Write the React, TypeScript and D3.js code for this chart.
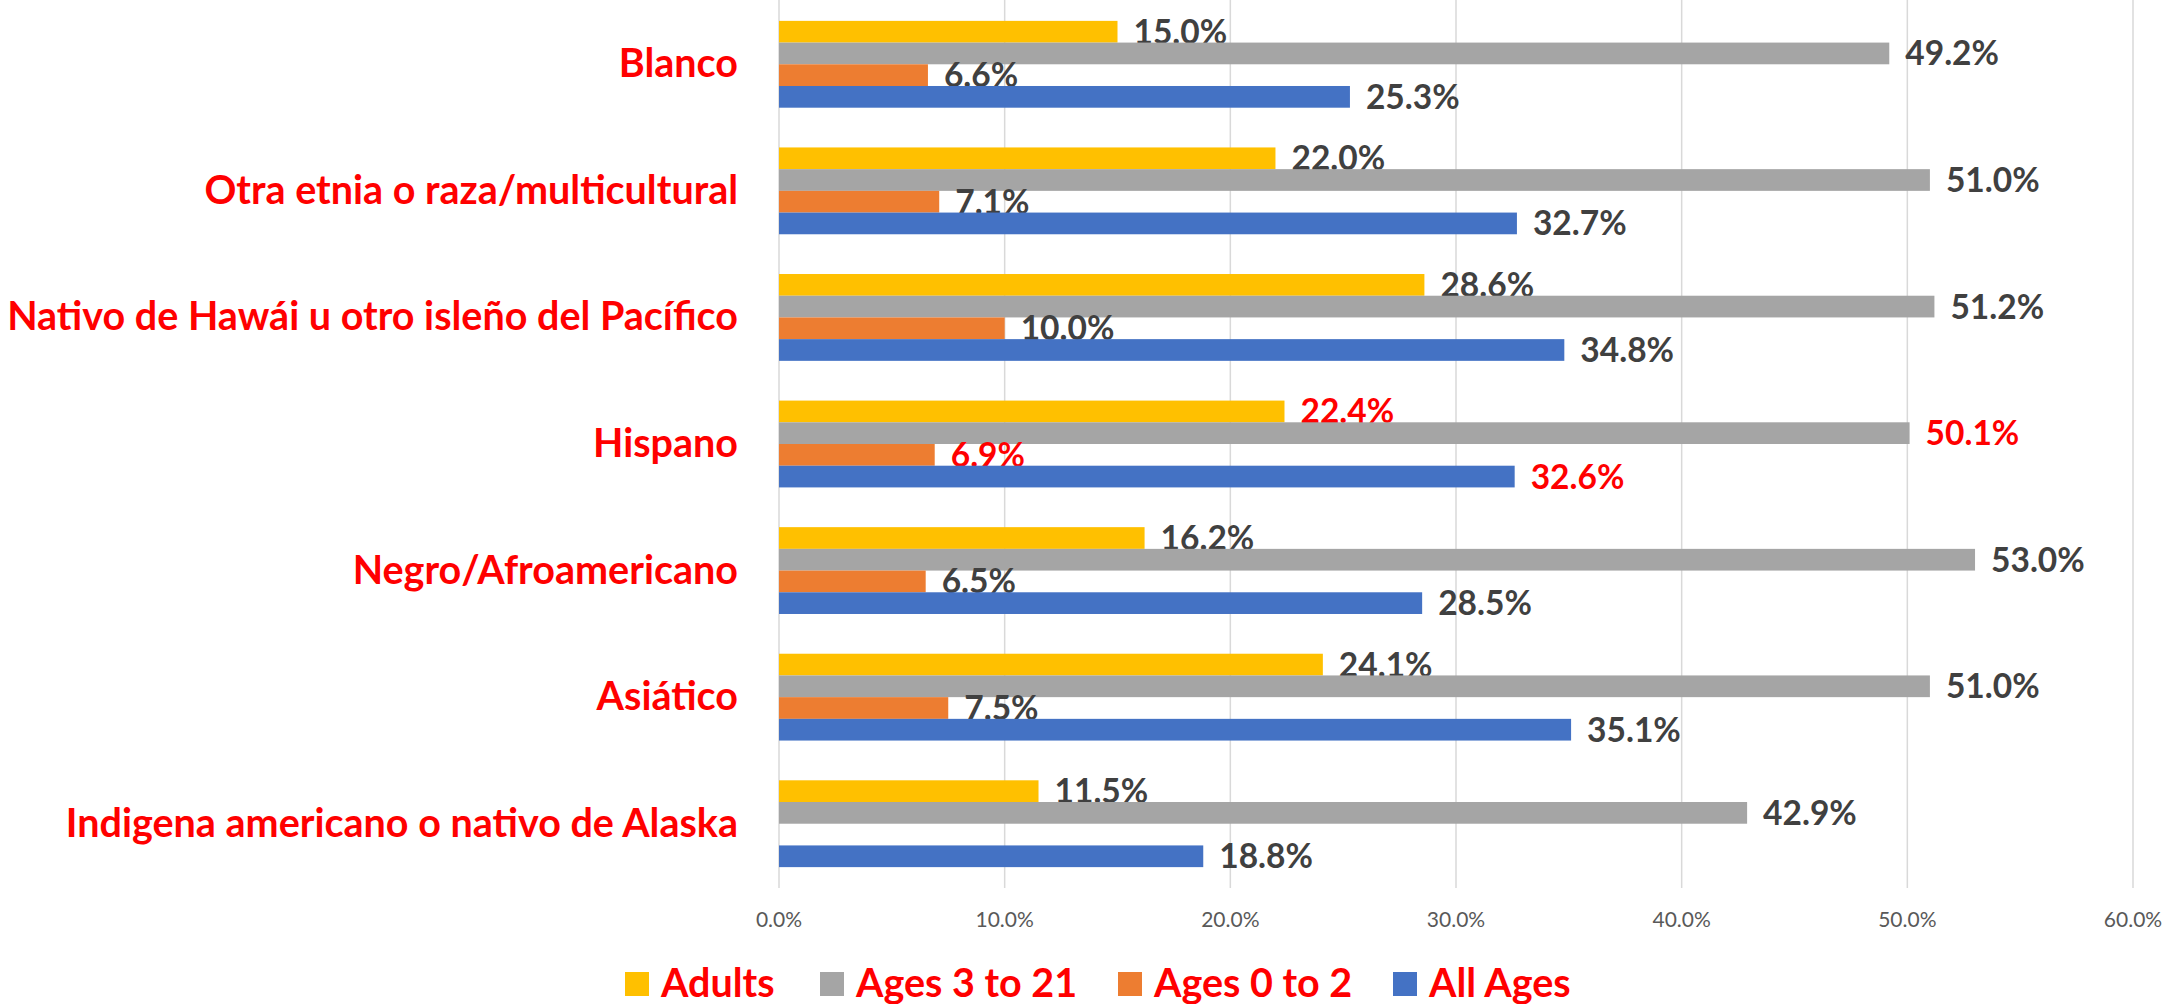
import React, { useEffect, useRef } from "react";
import * as d3 from "d3";

const categories = [
  "Blanco",
  "Otra etnia o raza/multicultural",
  "Nativo de Hawái u otro isleño del Pacífico",
  "Hispano",
  "Negro/Afroamericano",
  "Asiático",
  "Indigena americano o nativo de Alaska",
];
const seriesNames = ["Adults", "Ages 3 to 21", "Ages 0 to 2", "All Ages"];
const seriesColors = ["#FFC000", "#A5A5A5", "#ED7D31", "#4472C4"];
const adults = [15.0, 22.0, 28.6, 22.4, 16.2, 24.1, 11.5];
const ages3to21 = [49.2, 51.0, 51.2, 50.1, 53.0, 51.0, 42.9];
const ages0to2 = [6.6, 7.1, 10.0, 6.9, 6.5, 7.5, null];
const allAges = [25.3, 32.7, 34.8, 32.6, 28.5, 35.1, 18.8];
const xTicks = [0, 10, 20, 30, 40, 50, 60];
const highlighted = ["Hispano"];

const W = 2165;
const H = 1004;
const FONT = "Lato, 'Noto Sans', sans-serif";

export default function App() {
  const ref = useRef<SVGSVGElement>(null);
  useEffect(() => {
    const svg = d3.select(ref.current);
    svg.selectAll("*").remove();
    const series = [adults, ages3to21, ages0to2, allAges];
    const x = d3.scaleLinear().domain([0, 60]).range([779, 2133]);
    const y = d3.scaleBand().domain(categories).range([1, 887]).paddingInner(0.314).paddingOuter(0.157);
    const y1 = d3.scaleBand().domain(seriesNames).range([0, y.bandwidth()]);

    svg.append("g").selectAll("line").data(xTicks).join("line")
      .attr("x1", d => x(d)).attr("x2", d => x(d))
      .attr("y1", 0).attr("y2", 888)
      .attr("stroke", "#D9D9D9").attr("stroke-width", 1.5);

    svg.append("g").selectAll("text").data(xTicks).join("text")
      .attr("x", d => x(d)).attr("y", 927)
      .attr("text-anchor", "middle")
      .attr("font-family", FONT).attr("font-size", 21).attr("fill", "#595959")
      .text(d => d3.format(".1f")(d) + "%");

    svg.append("g").selectAll("text").data(categories).join("text")
      .attr("x", 738).attr("y", d => (y(d) as number) + y.bandwidth() / 2 + 13)
      .attr("text-anchor", "end")
      .attr("font-family", FONT).attr("font-weight", "bold").attr("font-size", 39.5)
      .attr("fill", "#FF0000").text(d => d);

    series.forEach((vals, si) => {
      const g = svg.append("g");
      const data = categories.map((c, i) => ({ c, v: vals[i] })).filter(d => d.v != null) as { c: string; v: number }[];
      g.selectAll("rect").data(data).join("rect")
        .attr("x", x(0)).attr("y", d => (y(d.c) as number) + (y1(seriesNames[si]) as number))
        .attr("width", d => x(d.v) - x(0)).attr("height", y1.bandwidth())
        .attr("fill", seriesColors[si]);
      g.selectAll("text").data(data).join("text")
        .attr("x", d => x(d.v) + 16)
        .attr("y", d => (y(d.c) as number) + (y1(seriesNames[si]) as number) + y1.bandwidth() / 2 + 12)
        .attr("font-family", FONT).attr("font-weight", "bold").attr("font-size", 33.5)
        .attr("fill", d => highlighted.includes(d.c) ? "#FF0000" : "#404040")
        .text(d => d3.format(".1f")(d.v) + "%");
    });

    const legendX = [625, 820, 1118, 1393];
    const lg = svg.append("g");
    seriesNames.forEach((s, i) => {
      lg.append("rect").attr("x", legendX[i]).attr("y", 972).attr("width", 24).attr("height", 24).attr("fill", seriesColors[i]);
      lg.append("text").attr("x", legendX[i] + 36).attr("y", 997)
        .attr("font-family", FONT).attr("font-weight", "bold").attr("font-size", 39.5)
        .attr("fill", "#FF0000").text(s);
    });
  }, []);
  return (
    <svg ref={ref} width={W} height={H} style={{ position: "absolute", left: 0, top: 0, background: "#fff" }} />
  );
}
